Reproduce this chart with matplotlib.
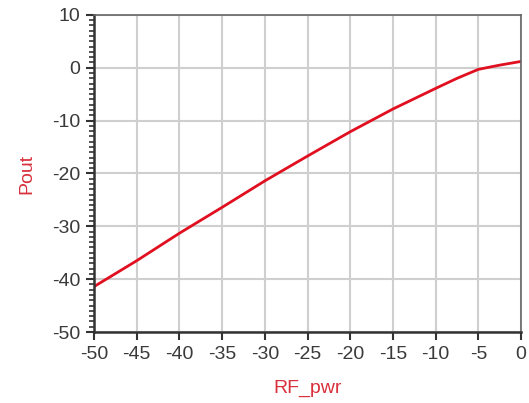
import matplotlib
matplotlib.use("Agg")
import matplotlib.pyplot as plt
from matplotlib.ticker import MultipleLocator

# RF_pwr 扫描 (dBm) 与输出功率 Pout (dBm)
rf_pwr = [-50, -45, -40, -35, -30, -25, -20, -15, -10, -7.5, -5, -2.5, 0]
pout = [-41.4, -36.5, -31.3, -26.4, -21.4, -16.7, -12.1, -7.8, -3.9, -2.0, -0.3, 0.5, 1.2]

x_ticks = [-50, -45, -40, -35, -30, -25, -20, -15, -10, -5, 0]
y_ticks = [-50, -40, -30, -20, -10, 0, 10]

plt.rcParams['font.family'] = ['Liberation Sans', 'DejaVu Sans']
plt.rcParams['axes.unicode_minus'] = False

fig = plt.figure(figsize=(5.29, 4.03), dpi=100)
ax = fig.add_axes([0.1777, 0.176, 0.8073, 0.787])

ax.plot(rf_pwr, pout, color='#e01020', linewidth=2.0)

ax.set_xlim(-50, 0)
ax.set_ylim(-50, 10)
ax.set_xticks(x_ticks)
ax.set_yticks(y_ticks)
ax.yaxis.set_minor_locator(MultipleLocator(1))

# 网格
ax.grid(True, which='major', color='#cfcfcf', linewidth=1.5)
ax.set_axisbelow(True)

ax.tick_params(axis='both', which='major', direction='out', length=6, width=1.5,
               color='#333333', labelsize=14, labelcolor='#3a3a3a', pad=4)
ax.tick_params(axis='y', which='minor', direction='out', length=3.5, width=1.2,
               color='#333333')

for side in ['left', 'bottom']:
    ax.spines[side].set_color('#333333')
    ax.spines[side].set_linewidth(1.8)
for side in ['top', 'right']:
    ax.spines[side].set_color('#666666')
    ax.spines[side].set_linewidth(1.2)

ax.set_xlabel('RF_pwr', color='#d8303c', fontsize=14, labelpad=12)
ax.set_ylabel('Pout', color='#d8303c', fontsize=14, labelpad=12)

fig.savefig('out.png', dpi=100)
